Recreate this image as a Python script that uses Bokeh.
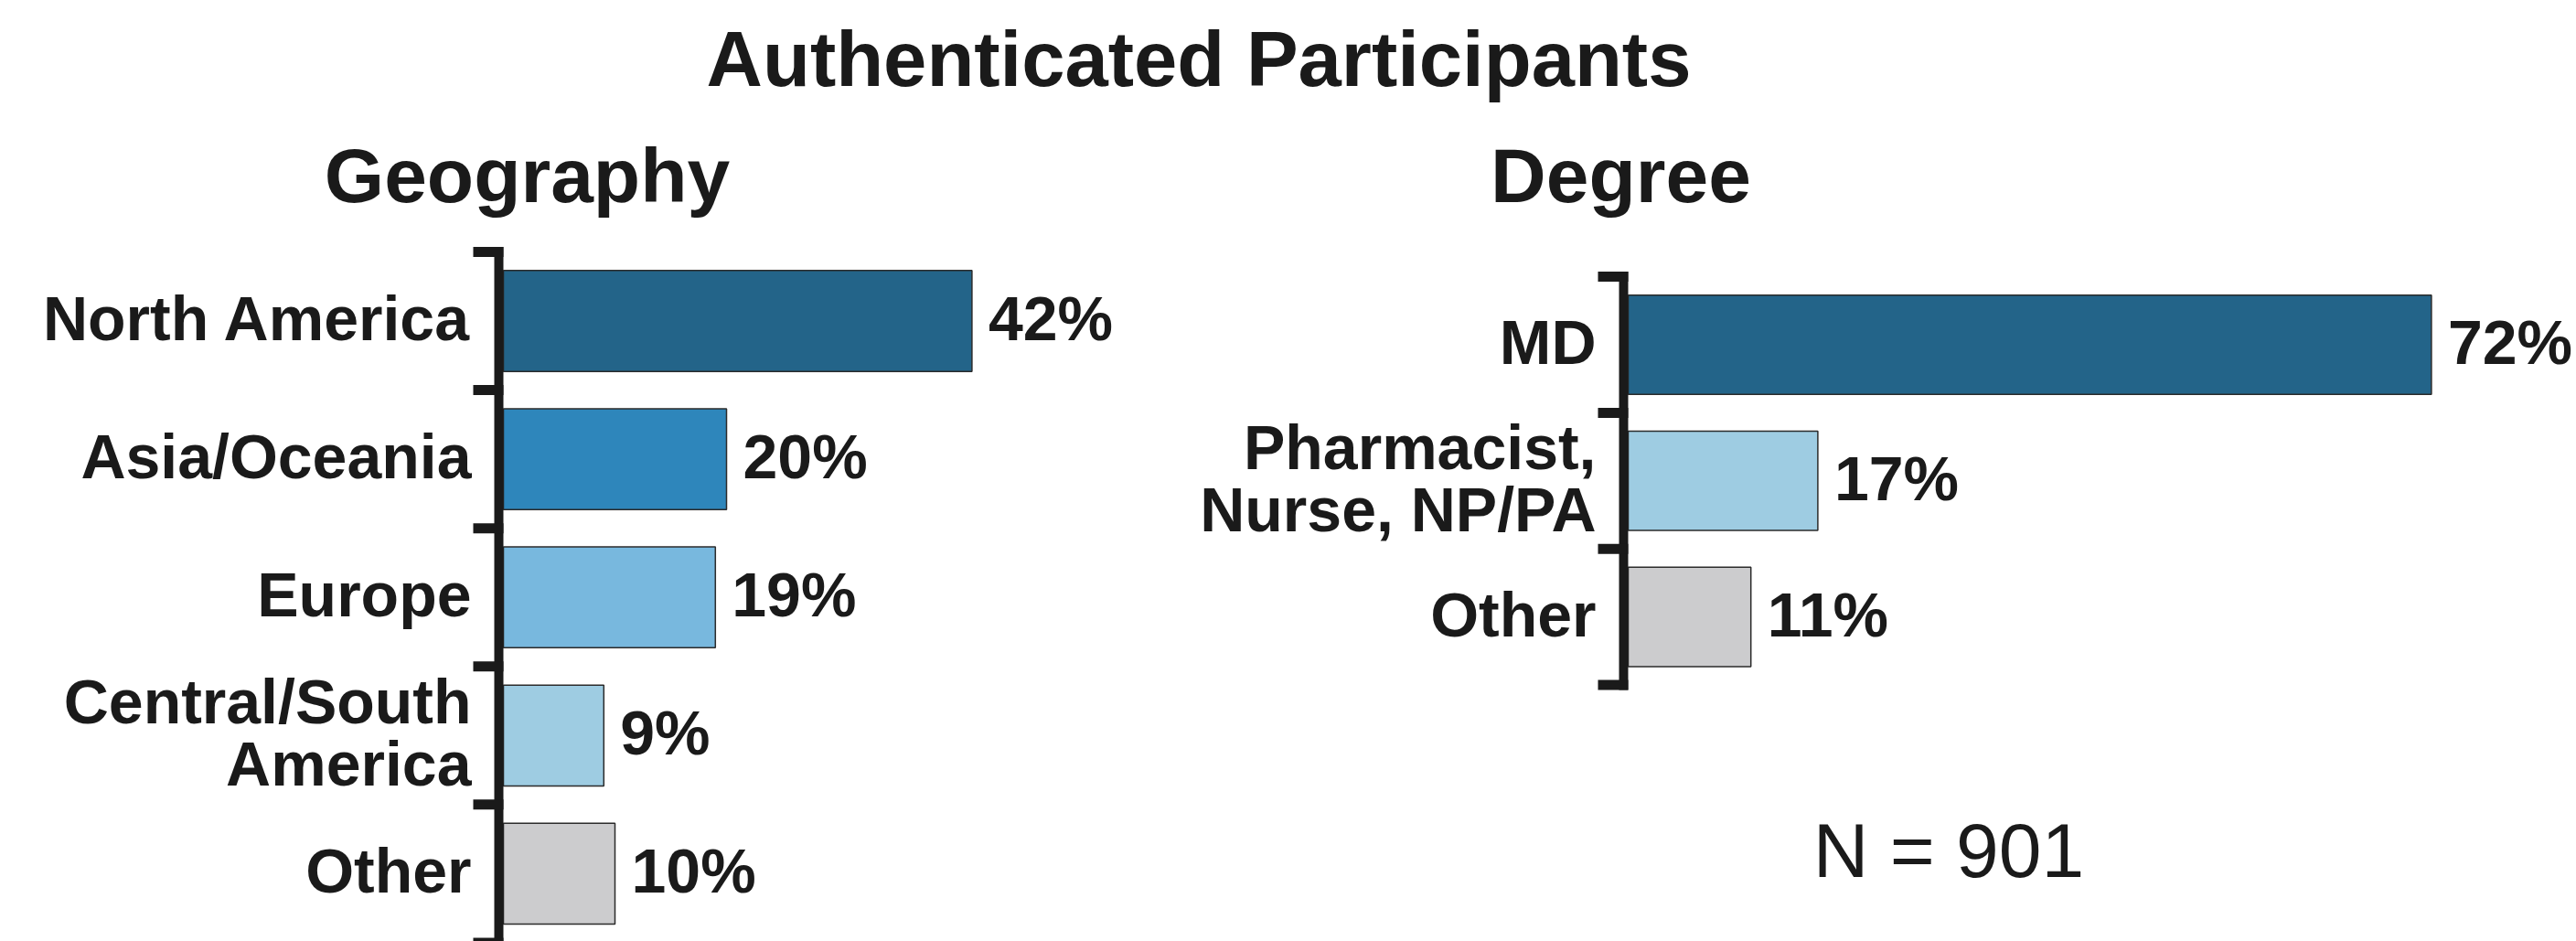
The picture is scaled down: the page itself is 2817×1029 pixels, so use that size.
from bokeh.plotting import figure
from bokeh.models import Range1d, ColumnDataSource
from bokeh.embed import file_html
from bokeh.resources import INLINE
from bokeh.core.properties import value

# ---- data ----
main_title = "Authenticated Participants"
geo_title = "Geography"
deg_title = "Degree"
sample_note = "N = 901"

geo_categories = ["North America", "Asia/Oceania", "Europe", "Central/South\nAmerica", "Other"]
geo_values = [42, 20, 19, 9, 10]

deg_categories = ["MD", "Pharmacist,\nNurse, NP/PA", "Other"]
deg_values = [72, 17, 11]

# ---- styles ----
geo_colors = ["#236489", "#2E86BB", "#78B8DE", "#9ECCE2", "#CCCCCE"]
deg_colors = ["#236489", "#9ECCE2", "#CCCCCE"]
INK = "#1a1a1a"
FONT = "Liberation Sans"

# ---- layout (page pixels) ----
W, H = 2817, 1029
PX_PER_PCT = 12.2
GEO_ZERO_X, GEO_Y0, GEO_STEP = 550.0, 350.5, 151.1
DEG_ZERO_X, DEG_Y0, DEG_STEP = 1780.0, 376.5, 148.8
BAR_H = 0.73

p = figure(width=W, height=H, x_range=Range1d(0, W), y_range=Range1d(H, 0),
           x_axis_type=None, y_axis_type=None, min_border=0,
           toolbar_location=None, output_backend="svg",
           outline_line_color=None, background_fill_color="white")
p.grid.visible = False

def xr(zero):
    return Range1d(-zero / PX_PER_PCT, (W - zero) / PX_PER_PCT)

def yr(y0, step):
    return Range1d((H - y0) / step, -y0 / step)

p.extra_x_ranges = {"geo": xr(GEO_ZERO_X), "deg": xr(DEG_ZERO_X)}
p.extra_y_ranges = {"geo": yr(GEO_Y0, GEO_STEP), "deg": yr(DEG_Y0, DEG_STEP)}

def panel(name, cats, vals, colors, zero_x, step):
    n = len(cats)
    src = ColumnDataSource(dict(
        y=list(range(n)), v=vals, cat=cats, color=colors,
        lab=[f"{v}%" for v in vals]))
    p.hbar(y="y", left=0, right="v", height=BAR_H, fill_color="color",
           line_color="#2b2b2b", line_width=1.5, source=src,
           x_range_name=name, y_range_name=name)
    # bracket axis
    ax = zero_x - 5
    half = 5.5 / step
    p.segment(x0=[ax], x1=[ax], y0=[-0.5 - half], y1=[n - 0.5 + half],
              line_color=INK, line_width=10, line_cap="butt", y_range_name=name)
    b = [k - 0.5 for k in range(n + 1)]
    p.segment(x0=[zero_x - 33] * len(b), x1=[zero_x] * len(b), y0=b, y1=b,
              line_color=INK, line_width=11, line_cap="butt", y_range_name=name)
    # category labels
    p.text(x=0, y="y", text="cat", source=src, x_offset=-35, y_offset=-3,
           text_align="right", text_baseline="middle",
           text_font=value(FONT), text_font_style="bold",
           text_font_size="68px", text_color=INK, text_line_height=0.9,
           x_range_name=name, y_range_name=name)
    # value labels
    p.text(x="v", y="y", text="lab", source=src, x_offset=18, y_offset=-3,
           text_align="left", text_baseline="middle",
           text_font=value(FONT), text_font_style="bold",
           text_font_size="68px", text_color=INK,
           x_range_name=name, y_range_name=name)

panel("geo", geo_categories, geo_values, geo_colors, GEO_ZERO_X, GEO_STEP)
panel("deg", deg_categories, deg_values, deg_colors, DEG_ZERO_X, DEG_STEP)

# titles and note
p.text(x=[1310.5], y=[64], text=[main_title], text_align="center",
       text_baseline="middle", text_font=value(FONT), text_font_style="bold",
       text_font_size="85px", text_color=INK)
p.text(x=[576, 1772], y=[191, 191], text=[geo_title, deg_title], text_align="center",
       text_baseline="middle", text_font=value(FONT), text_font_style="bold",
       text_font_size="84px", text_color=INK)
p.text(x=[2130.5], y=[929], text=[sample_note], text_align="center",
       text_baseline="middle", text_font=value(FONT), text_font_style="normal",
       text_font_size="84px", text_color=INK)

open("out.html", "w").write(file_html(p, INLINE))
